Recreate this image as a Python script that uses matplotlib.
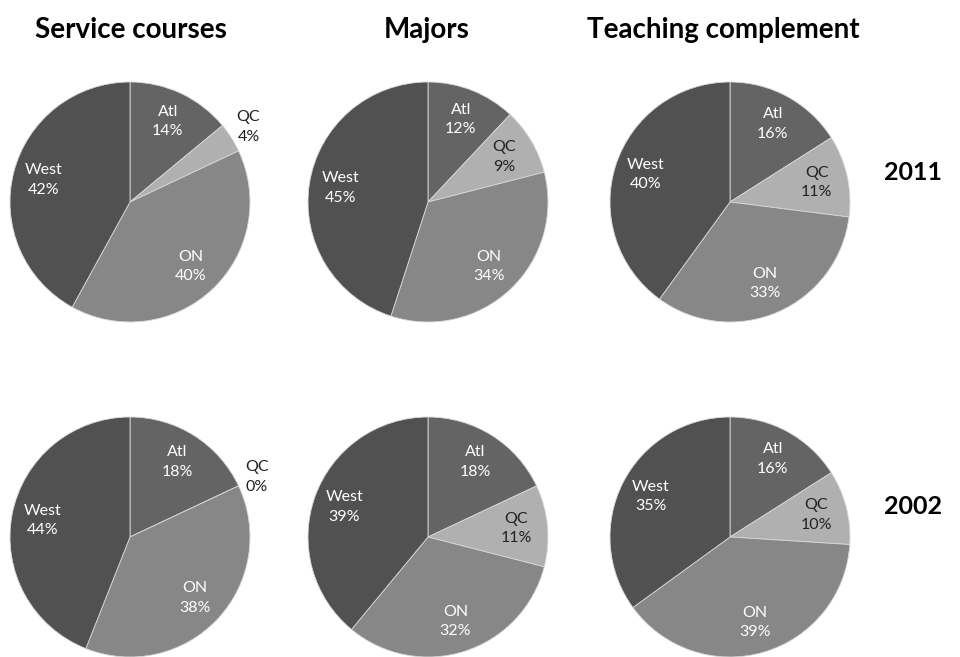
import numpy as np
import matplotlib
matplotlib.use("Agg")
import matplotlib.pyplot as plt

# ---------------------------------------------------------------------------
# Dati
# ---------------------------------------------------------------------------
regions = ["Atl", "QC", "ON", "West"]
columns = ["Service courses", "Majors", "Teaching complement"]
years = ["2011", "2002"]

service_2011 = [14, 4, 40, 42]
majors_2011 = [12, 9, 34, 45]
teaching_2011 = [16, 11, 33, 40]
service_2002 = [18, 0, 38, 44]
majors_2002 = [18, 11, 32, 39]
teaching_2002 = [16, 10, 39, 35]

# ---------------------------------------------------------------------------
# Layout (pixel su figura 960x657) e stile
# ---------------------------------------------------------------------------
W, H = 960, 657
R = 120
CX = [130, 428, 730]
CY = [202, 537]
TITLE_X = [131, 427, 723]

colors = ["#646464", "#b0b0b0", "#878787", "#515151"]
text_colors = ["white", "#222222", "white", "white"]
INSIDE_DIST = 0.74     # etichette dentro la fetta
OUTSIDE_DIST = 1.17    # fette piccole: etichetta fuori
SMALL_PCT = 5

plt.rcParams["font.family"] = ["Lato", "DejaVu Sans"]

fig = plt.figure(figsize=(W / 100, H / 100), dpi=100)

data = [[service_2011, majors_2011, teaching_2011],
        [service_2002, majors_2002, teaching_2002]]

for r in range(2):
    for c in range(3):
        vals = data[r][c]
        ax = fig.add_axes([(CX[c] - R) / W, (H - CY[r] - R) / H, 2 * R / W, 2 * R / H])
        wedges, _ = ax.pie(vals, colors=colors, startangle=90, counterclock=False,
                           radius=1.0,
                           wedgeprops=dict(edgecolor="#d8d8d8", linewidth=0.6))
        ax.set_xlim(-1, 1)
        ax.set_ylim(-1, 1)
        ax.set_aspect("equal")
        ax.axis("off")
        for i, (w, name) in enumerate(zip(wedges, regions)):
            mid = np.radians(0.5 * (w.theta1 + w.theta2))
            dist = OUTSIDE_DIST if vals[i] < SMALL_PCT else INSIDE_DIST
            ax.text(dist * np.cos(mid), dist * np.sin(mid), f"{name}\n{vals[i]}%",
                    ha="center", va="center", color=text_colors[i],
                    fontsize=11.5, linespacing=1.5, clip_on=False, zorder=5)

for c, title in enumerate(columns):
    fig.text(TITLE_X[c] / W, 1 - 30 / H, title, ha="center", va="center",
             fontsize=20, fontweight="bold", color="black")

for r, year in enumerate(years):
    fig.text(913 / W, 1 - (CY[r] - 30) / H, year, ha="center", va="center",
             fontsize=18, fontweight="bold", color="black")

fig.savefig("out.png", dpi=100)
plt.close(fig)
